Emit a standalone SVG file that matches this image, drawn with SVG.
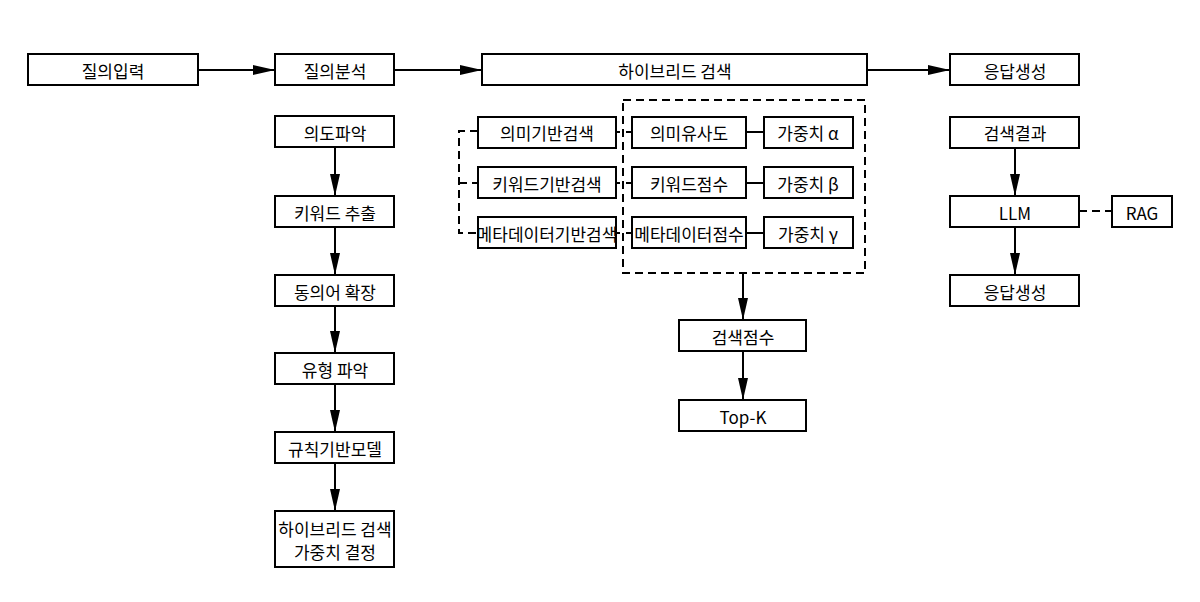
<svg xmlns="http://www.w3.org/2000/svg" width="1200" height="602" viewBox="0 0 1200 602">
<style>
rect{fill:#fff;stroke:#000;stroke-width:2}
text{font-family:"Noto Sans CJK KR","DejaVu Sans",sans-serif;font-size:17px;text-anchor:middle;dominant-baseline:central;fill:#000}
.c line,.c polyline{stroke:#000;stroke-width:2;fill:none}
.d{stroke-dasharray:8,5}
</style>
<defs><marker id="a" markerWidth="22" markerHeight="10" refX="22" refY="5" orient="auto" markerUnits="userSpaceOnUse"><path d="M0,0L22,5L0,10z" fill="#000"/></marker></defs>
<rect x="0" y="0" width="1200" height="602" style="stroke:none"/>
<g class="c">
<line x1="198" y1="70" x2="275" y2="70" marker-end="url(#a)"/>
<line x1="394" y1="70" x2="482" y2="70" marker-end="url(#a)"/>
<line x1="867" y1="70" x2="950" y2="70" marker-end="url(#a)"/>
<line x1="335" y1="147" x2="335" y2="196" marker-end="url(#a)"/>
<line x1="335" y1="227" x2="335" y2="275" marker-end="url(#a)"/>
<line x1="335" y1="306" x2="335" y2="353" marker-end="url(#a)"/>
<line x1="335" y1="384" x2="335" y2="432" marker-end="url(#a)"/>
<line x1="335" y1="463" x2="335" y2="511" marker-end="url(#a)"/>
<polyline class="d" points="478,131 459,131 459,233 478,233"/>
<line class="d" x1="459" y1="183" x2="478" y2="183"/>
<rect x="623" y="100" width="242" height="173" style="fill:none;stroke-dasharray:8,5"/>
<line x1="616" y1="132" x2="620" y2="132"/><line x1="626" y1="132" x2="632" y2="132"/>
<line x1="616" y1="183" x2="620" y2="183"/><line x1="626" y1="183" x2="632" y2="183"/>
<line x1="616" y1="233" x2="620" y2="233"/><line x1="626" y1="233" x2="632" y2="233"/>
<line x1="746" y1="132" x2="764" y2="132"/>
<line x1="746" y1="183" x2="764" y2="183"/>
<line x1="746" y1="233" x2="764" y2="233"/>
<line x1="743" y1="273" x2="743" y2="320" marker-end="url(#a)"/>
<line x1="743" y1="351" x2="743" y2="400" marker-end="url(#a)"/>
<line x1="1015" y1="148" x2="1015" y2="196" marker-end="url(#a)"/>
<line x1="1015" y1="227" x2="1015" y2="275" marker-end="url(#a)"/>
<line class="d" x1="1079" y1="211" x2="1112" y2="211"/>
</g>
<g id="n1"><rect x="28" y="54" width="170" height="31"/><text x="113" y="70">질의입력</text></g>
<g id="n2"><rect x="275" y="54" width="119" height="31"/><text x="335" y="70">질의분석</text></g>
<g id="n3"><rect x="482" y="54" width="385" height="31"/><text x="675" y="70">하이브리드 검색</text></g>
<g id="n4"><rect x="950" y="54" width="129" height="31"/><text x="1015" y="70">응답생성</text></g>
<g id="l1"><rect x="275" y="116" width="119" height="31"/><text x="335" y="132">의도파악</text></g>
<g id="l2"><rect x="275" y="196" width="119" height="31"/><text x="335" y="212">키워드 추출</text></g>
<g id="l3"><rect x="275" y="275" width="119" height="31"/><text x="335" y="291">동의어 확장</text></g>
<g id="l4"><rect x="275" y="353" width="119" height="31"/><text x="335" y="369">유형 파악</text></g>
<g id="l5"><rect x="275" y="432" width="119" height="31"/><text x="335" y="448">규칙기반모델</text></g>
<g id="l6"><rect x="275" y="511" width="119" height="56"/><text x="335" y="528">하이브리드 검색</text><text x="335" y="551">가중치 결정</text></g>
<g id="m1"><rect x="478" y="117" width="138" height="31"/><text x="547" y="132">의미기반검색</text></g>
<g id="m2"><rect x="478" y="167" width="138" height="31"/><text x="547" y="183">키워드기반검색</text></g>
<g id="m3"><rect x="478" y="217" width="138" height="31"/><text x="547" y="233">메타데이터기반검색</text></g>
<g id="s1"><rect x="632" y="117" width="114" height="31"/><text x="689" y="132">의미유사도</text></g>
<g id="s2"><rect x="632" y="167" width="114" height="31"/><text x="689" y="183">키워드점수</text></g>
<g id="s3"><rect x="632" y="217" width="114" height="31"/><text x="689" y="233">메타데이터점수</text></g>
<g id="w1"><rect x="764" y="117" width="89" height="31"/><text x="808" y="132">가중치 α</text></g>
<g id="w2"><rect x="764" y="167" width="89" height="31"/><text x="808" y="183">가중치 β</text></g>
<g id="w3"><rect x="764" y="217" width="89" height="31"/><text x="808" y="233">가중치 γ</text></g>
<g id="sc"><rect x="679" y="320" width="127" height="31"/><text x="743" y="336">검색점수</text></g>
<g id="tk"><rect x="679" y="400" width="127" height="31"/><text x="743" y="416">Top-K</text></g>
<g id="r1"><rect x="950" y="117" width="129" height="31"/><text x="1015" y="132">검색결과</text></g>
<g id="r2"><rect x="950" y="196" width="129" height="31"/><text x="1015" y="212">LLM</text></g>
<g id="r3"><rect x="1112" y="196" width="60" height="31"/><text x="1142" y="212">RAG</text></g>
<g id="r4"><rect x="950" y="275" width="129" height="31"/><text x="1015" y="291">응답생성</text></g>
</svg>
